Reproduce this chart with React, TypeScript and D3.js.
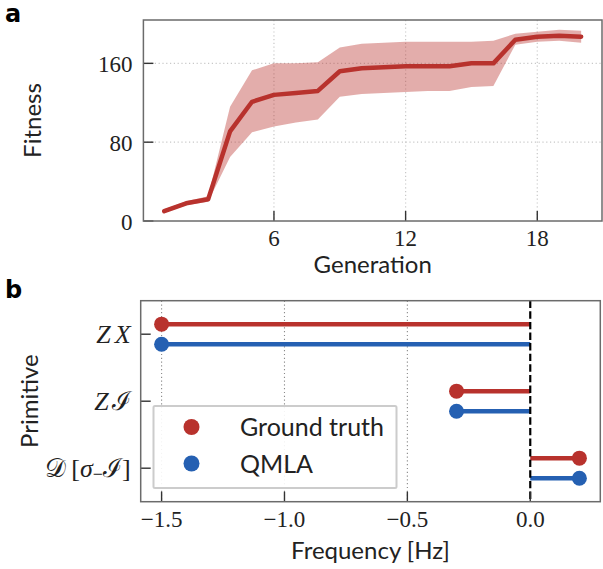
import React, { useRef, useEffect } from 'react'
import * as d3 from 'd3'

// panel a: fitness per generation
const generations = [1, 2, 3, 4, 5, 6, 7, 8, 9, 10, 11, 12, 13, 14, 15, 16, 17, 18, 19, 20]
const fitnessMean = [10, 18, 22, 91, 121, 128, 130, 132, 152, 155, 156, 157, 157, 157, 160, 160, 184, 187, 188, 187]
const fitnessUpper = [12, 20, 25, 116, 153, 160, 160, 161, 176, 180, 181, 182, 182, 182, 182, 183, 190, 192, 194, 193]
const fitnessLower = [8, 16, 19.5, 65, 90, 96, 100, 103, 126, 129, 130, 131, 132, 132, 136, 137, 179, 182, 183, 181]
const fitnessTicks = [0, 80, 160]
const generationTicks = [6, 12, 18]

// panel b: primitive frequencies
const primitives = ['ZX', 'ZI', 'DsI']
const groundTruth = [-1.5, -0.3, 0.2]
const qmla = [-1.5, -0.3, 0.2]
const frequencyTicks = [-1.5, -1.0, -0.5, 0.0]

const RED = '#b8322d'
const BLUE = '#2560b2'
const SANS = 'Lato, "DejaVu Sans", sans-serif'
const SERIF = '"Liberation Serif", "DejaVu Serif", serif'

const App = () => {
    const ref = useRef<SVGSVGElement | null>(null)

    useEffect(() => {
        if (!ref.current) return
        const svg = d3.select(ref.current)
        svg.selectAll('*').remove()

        const fmt = (v: number) => (v < 0 ? '\u2212' : '') + d3.format('.1f')(Math.abs(v))

        // ---------- panel a ----------
        const a = { left: 143.4, right: 602, top: 20, bottom: 221 }
        const xa = d3.scaleLinear().domain([0.05, 20.95]).range([a.left, a.right])
        const ya = d3.scaleLinear().domain([0, 204]).range([a.bottom, a.top])

        const ga = svg.append('g')

        // grid
        ga.selectAll('.gx').data(generationTicks).enter().append('line')
            .attr('x1', d => xa(d)).attr('x2', d => xa(d))
            .attr('y1', a.top).attr('y2', a.bottom)
            .attr('stroke', '#c8c8c8').attr('stroke-width', 1.2).attr('stroke-dasharray', '1.2,2.6')
        ga.selectAll('.gy').data(fitnessTicks.filter(d => d > 0)).enter().append('line')
            .attr('x1', a.left).attr('x2', a.right)
            .attr('y1', d => ya(d)).attr('y2', d => ya(d))
            .attr('stroke', '#c8c8c8').attr('stroke-width', 1.2).attr('stroke-dasharray', '1.2,2.6')

        const band = generations.map((g, i) => ({ g, lo: fitnessLower[i], hi: fitnessUpper[i] }))
        ga.append('path')
            .datum(band)
            .attr('fill', RED).attr('fill-opacity', 0.4)
            .attr('d', d3.area<{ g: number, lo: number, hi: number }>()
                .x(d => xa(d.g)).y0(d => ya(d.lo)).y1(d => ya(d.hi)))

        ga.append('path')
            .datum(generations.map((g, i) => [g, fitnessMean[i]] as [number, number]))
            .attr('fill', 'none').attr('stroke', RED).attr('stroke-width', 4.5)
            .attr('stroke-linecap', 'round').attr('stroke-linejoin', 'round')
            .attr('d', d3.line().x(d => xa(d[0])).y(d => ya(d[1])))

        // ticks
        ga.selectAll('.tx').data(generationTicks).enter().append('line')
            .attr('x1', d => xa(d)).attr('x2', d => xa(d))
            .attr('y1', a.bottom).attr('y2', a.bottom - 10)
            .attr('stroke', '#333').attr('stroke-width', 1.4)
        ga.selectAll('.ty').data(fitnessTicks).enter().append('line')
            .attr('x1', a.left).attr('x2', a.left + 10)
            .attr('y1', d => ya(d)).attr('y2', d => ya(d))
            .attr('stroke', '#333').attr('stroke-width', 1.4)
        ga.selectAll('.lx').data(generationTicks).enter().append('text')
            .attr('x', d => xa(d)).attr('y', a.bottom + 25)
            .attr('text-anchor', 'middle').attr('font-family', SERIF).attr('font-size', 23).attr('fill', '#222')
            .text(d => d)
        ga.selectAll('.ly').data(fitnessTicks).enter().append('text')
            .attr('x', a.left - 11).attr('y', d => ya(d) + 9)
            .attr('text-anchor', 'end').attr('font-family', SERIF).attr('font-size', 23).attr('fill', '#222')
            .text(d => d)

        ga.append('rect')
            .attr('x', a.left).attr('y', a.top).attr('width', a.right - a.left).attr('height', a.bottom - a.top)
            .attr('fill', 'none').attr('stroke', '#6b6b6b').attr('stroke-width', 1.5)

        ga.append('text')
            .attr('x', (a.left + a.right) / 2).attr('y', 273)
            .attr('text-anchor', 'middle').attr('font-family', SANS).attr('font-size', 24).attr('fill', '#222')
            .text('Generation')
        ga.append('text')
            .attr('transform', `translate(41, ${(a.top + a.bottom) / 2}) rotate(-90)`)
            .attr('text-anchor', 'middle').attr('font-family', SANS).attr('font-size', 24).attr('fill', '#222')
            .text('Fitness')
        svg.append('text')
            .attr('x', 5).attr('y', 22)
            .attr('font-family', '"DejaVu Sans", sans-serif').attr('font-weight', 'bold').attr('font-size', 24)
            .text('a')

        // ---------- panel b ----------
        const b = { left: 140.7, right: 600.3, top: 300.7, bottom: 501.7 }
        const xb = d3.scaleLinear().domain([-1.585, 0.285]).range([b.left, b.right])
        const yb = d3.scaleLinear().domain([-0.5, 2.5]).range([b.top, b.bottom])
        const off = 0.15

        const gb = svg.append('g')
        gb.selectAll('.gx').data(frequencyTicks.filter(d => d !== 0)).enter().append('line')
            .attr('x1', d => xb(d)).attr('x2', d => xb(d))
            .attr('y1', b.top).attr('y2', b.bottom)
            .attr('stroke', '#8a8a8a').attr('stroke-width', 1.1).attr('stroke-dasharray', '1.2,2.6')

        const series = [
            { values: groundTruth, color: RED, dy: -off },
            { values: qmla, color: BLUE, dy: off },
        ]
        series.forEach(s => {
            gb.selectAll(null).data(s.values).enter().append('line')
                .attr('x1', d => xb(d)).attr('x2', xb(0))
                .attr('y1', (d, i) => yb(i + s.dy)).attr('y2', (d, i) => yb(i + s.dy))
                .attr('stroke', s.color).attr('stroke-width', 4.5)
            gb.selectAll(null).data(s.values).enter().append('circle')
                .attr('cx', d => xb(d)).attr('cy', (d, i) => yb(i + s.dy))
                .attr('r', 7.5).attr('fill', s.color)
        })

        gb.append('line')
            .attr('x1', xb(0)).attr('x2', xb(0)).attr('y1', b.top).attr('y2', b.bottom)
            .attr('stroke', '#000').attr('stroke-width', 2.2).attr('stroke-dasharray', '7.4,3.2')

        // legend
        const lg = gb.append('g')
        lg.append('rect')
            .attr('x', 153.5).attr('y', 406).attr('width', 243).attr('height', 82).attr('rx', 1.5)
            .attr('fill', '#fff').attr('fill-opacity', 0.9).attr('stroke', '#cccccc').attr('stroke-width', 2)
        const legendItems = [{ label: 'Ground truth', color: RED }, { label: 'QMLA', color: BLUE }]
        legendItems.forEach((it, i) => {
            lg.append('circle').attr('cx', 191.5).attr('cy', 427 + i * 36.5).attr('r', 8).attr('fill', it.color)
            lg.append('text')
                .attr('x', 240).attr('y', 436 + i * 36.5)
                .attr('font-family', SANS).attr('font-size', 25).attr('fill', '#222')
                .text(it.label)
        })

        // ticks
        gb.selectAll('.tx').data(frequencyTicks).enter().append('line')
            .attr('x1', d => xb(d)).attr('x2', d => xb(d))
            .attr('y1', b.bottom).attr('y2', b.bottom - 10)
            .attr('stroke', '#333').attr('stroke-width', 1.4)
        gb.selectAll('.ty').data(primitives).enter().append('line')
            .attr('x1', b.left).attr('x2', b.left + 10)
            .attr('y1', (d, i) => yb(i)).attr('y2', (d, i) => yb(i))
            .attr('stroke', '#333').attr('stroke-width', 1.4)
        gb.selectAll('.lx').data(frequencyTicks).enter().append('text')
            .attr('x', d => xb(d)).attr('y', b.bottom + 25.5)
            .attr('text-anchor', 'middle').attr('font-family', SERIF).attr('font-size', 23).attr('fill', '#222')
            .text(d => fmt(d))

        primitives.forEach((p, i) => {
            const t = gb.append('text')
                .attr('x', b.left - 10).attr('y', yb(i) + 9)
                .attr('text-anchor', 'end').attr('font-family', SERIF).attr('font-size', 26).attr('fill', '#222')
            if (p === 'ZX') {
                t.append('tspan').attr('font-style', 'italic').text('Z')
                t.append('tspan').attr('font-style', 'italic').attr('dx', 4).text('X')
            } else if (p === 'ZI') {
                t.append('tspan').attr('font-style', 'italic').text('Z')
                t.append('tspan').attr('dx', 3).text('\u2110')
            } else {
                t.append('tspan').text('\uD835\uDC9F')
                t.append('tspan').attr('dx', 5).text('[')
                t.append('tspan').attr('font-style', 'italic').text('\u03C3')
                t.append('tspan').attr('font-size', 18).attr('dy', 3).text('\u2212')
                t.append('tspan').attr('dy', -3).text('\u2110')
                t.append('tspan').text(']')
            }
        })

        gb.append('rect')
            .attr('x', b.left).attr('y', b.top).attr('width', b.right - b.left).attr('height', b.bottom - b.top)
            .attr('fill', 'none').attr('stroke', '#6b6b6b').attr('stroke-width', 1.5)

        gb.append('text')
            .attr('x', (b.left + b.right) / 2).attr('y', 559)
            .attr('text-anchor', 'middle').attr('font-family', SANS).attr('font-size', 24).attr('fill', '#222')
            .text('Frequency [Hz]')
        gb.append('text')
            .attr('transform', `translate(38, ${(b.top + b.bottom) / 2}) rotate(-90)`)
            .attr('text-anchor', 'middle').attr('font-family', SANS).attr('font-size', 24).attr('fill', '#222')
            .text('Primitive')
        svg.append('text')
            .attr('x', 5).attr('y', 298)
            .attr('font-family', '"DejaVu Sans", sans-serif').attr('font-weight', 'bold').attr('font-size', 24)
            .text('b')
    }, [])

    return (
        <div style={{ position: 'absolute', left: 0, top: 0 }}>
            <svg ref={ref} width={603} height={569} style={{ display: 'block', background: '#fff' }} />
        </div>
    )
}

export default App
